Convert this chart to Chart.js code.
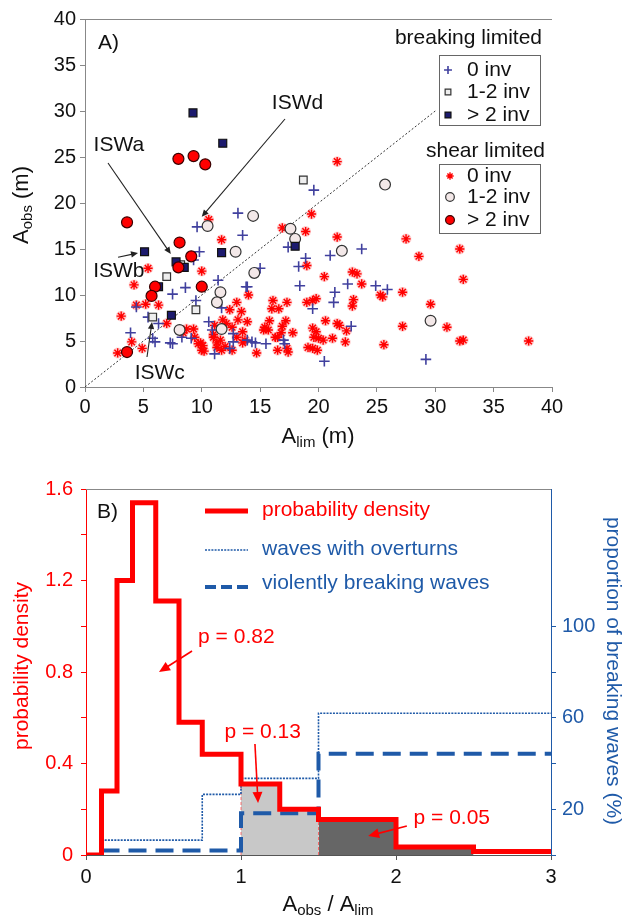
<!DOCTYPE html>
<html>
<head>
<meta charset="utf-8">
<script src="https://cdn.jsdelivr.net/npm/chart.js@4.4.1/dist/chart.umd.min.js"></script>
<style>
  html, body { margin: 0; padding: 0; background: #fff; }
  #chartA { position: absolute; left: 0; top: 0; }
  #chartB { position: absolute; left: 0; top: 460px; }
</style>
</head>
<body>
<canvas id="chartA" width="629" height="460"></canvas>
<canvas id="chartB" width="629" height="463"></canvas>
<script>
const FONT = "'Liberation Sans', Arial, sans-serif";

// ---------- panel A: [A_lim, A_obs] in m ----------
const breakingZero = [
  [19.6, 21.4], [9.6, 17.4], [13.1, 18.9], [13.5, 16.5], [9.8, 14.7], [9.3, 13.8],
  [15.0, 12.9], [8.6, 10.8], [11.4, 11.6], [13.8, 10.9], [7.5, 10.1], [9.5, 9.4],
  [4.4, 8.7], [6.3, 6.9], [10.6, 7.1], [3.9, 5.9], [5.8, 5.3], [6.0, 4.9], [7.3, 4.8],
  [9.1, 5.3], [11.1, 3.6], [17.4, 15.2], [23.7, 15.0], [21.0, 14.3], [18.9, 14.0],
  [18.3, 13.1], [22.5, 11.2], [24.9, 11.0], [25.9, 10.6], [18.4, 11.0], [21.4, 10.3],
  [21.3, 9.2], [19.5, 8.5], [22.8, 6.6], [20.5, 2.8], [17.0, 5.1], [17.1, 4.7],
  [15.5, 4.7], [14.6, 4.8], [14.3, 4.9], [13.9, 5.1], [13.9, 10.9], [29.2, 3.0],
  [11.7, 8.6], [5.4, 7.6], [10.9, 6.2], [8.3, 5.4], [7.5, 4.7], [12.7, 4.9],
  [12.4, 4.2], [12.7, 5.8]
];
const breakingMid = [[18.7, 22.5], [8.2, 13.3], [7.0, 12.0], [9.5, 8.4], [5.8, 7.6]];
const breakingHigh = [
  [9.25, 29.8], [11.8, 26.5], [5.1, 14.7], [11.7, 14.6], [7.8, 13.6], [8.5, 13.0],
  [6.3, 10.9], [7.4, 7.8], [18.0, 15.3]
];
const shearZero = [
  [21.6, 24.5], [10.6, 18.2], [11.7, 16.0], [5.4, 12.9], [10.0, 12.6], [4.2, 11.1],
  [4.4, 8.9], [5.2, 9.0], [6.3, 8.9], [3.1, 7.7], [7.0, 6.9], [12.1, 6.9], [4.0, 4.9],
  [2.8, 3.7], [4.9, 4.2], [8.7, 6.3], [9.3, 6.3], [9.4, 5.4], [9.9, 4.8], [10.2, 3.9],
  [11.0, 5.4], [11.3, 4.8], [8.4, 5.9], [9.7, 4.7], [10.0, 4.0], [10.1, 4.5],
  [12.4, 8.4], [13.0, 9.2], [13.4, 8.2], [11.8, 7.3], [11.1, 6.7], [11.0, 5.7],
  [11.6, 5.1], [12.0, 4.4], [12.6, 6.5], [13.0, 5.4], [13.1, 7.3], [13.5, 4.8],
  [12.6, 4.0], [11.7, 4.0], [13.5, 6.0], [11.3, 4.3],
  [19.0, 13.2], [20.5, 12.0], [22.9, 12.5], [23.3, 12.3], [23.7, 11.2], [25.3, 10.0],
  [25.5, 9.8], [27.2, 10.3], [23.0, 9.5], [22.9, 8.8], [19.0, 9.2], [19.5, 9.4],
  [19.8, 9.6], [17.3, 9.2], [16.1, 9.4], [16.0, 8.5], [16.6, 8.5], [14.0, 10.0],
  [20.6, 7.2], [21.6, 6.9], [21.8, 6.7], [22.4, 6.1], [19.5, 6.4], [19.8, 6.0],
  [19.6, 5.4], [20.0, 5.3], [20.4, 5.1], [21.2, 5.3], [22.3, 4.9], [25.6, 4.6],
  [27.2, 6.6], [19.1, 4.3], [19.5, 4.2], [19.9, 4.0], [17.8, 5.9], [17.2, 7.2],
  [16.9, 6.6], [16.8, 5.9], [16.5, 5.4], [16.5, 4.0], [17.3, 4.2], [17.4, 3.8],
  [15.4, 6.5], [15.3, 6.2], [15.7, 6.2], [15.8, 7.2], [16.3, 5.4], [14.7, 3.7],
  [13.9, 7.1], [13.7, 5.1],
  [19.4, 18.8], [18.9, 16.9], [21.6, 16.3], [27.5, 16.1], [28.6, 14.2], [32.1, 15.0],
  [32.4, 11.7], [29.6, 9.0], [31.0, 6.5], [32.1, 5.0], [32.4, 5.1], [38.0, 5.0],
  [16.9, 17.3]
];
const shearMid = [
  [25.7, 22.0], [10.5, 17.5], [14.4, 18.6], [12.9, 14.7], [14.5, 12.4], [11.6, 10.3],
  [11.3, 9.2], [8.1, 6.2], [11.7, 6.3], [22.0, 14.8], [29.6, 7.2], [17.6, 17.2], [18.0, 16.1]
];
const shearHigh = [
  [8.0, 24.8], [9.3, 25.1], [10.3, 24.2], [3.6, 17.9], [8.1, 15.7], [9.1, 14.2],
  [8.0, 13.0], [6.0, 10.9], [10.0, 10.9], [5.7, 9.9], [3.6, 3.8]
];
const oneToOne = [[0, 0], [30, 30]];

const iswNames = ["ISWa", "ISWb", "ISWc", "ISWd"];
const iswLabelAt = [[2.9, 26.3], [2.9, 12.6], [6.4, 1.5], [18.2, 30.9]];
const iswFrom = [[1.97, 24.35], [2.83, 14.1], [5.31, 3.26], [17.13, 29.13]];
const iswTo = [[7.35, 14.45], [4.54, 14.57], [5.74, 7.07], [10.0, 18.5]];

const invLabels = ["0 inv", "1-2 inv", "> 2 inv"];

// ---------- panel B ----------
const binEdges = [0, 0.1, 0.2, 0.3, 0.45, 0.6, 0.75, 1.0, 1.25, 1.5, 2.0, 2.5, 3.0];
const density = [0, 0.28, 1.2, 1.54, 1.11, 0.58, 0.44, 0.31, 0.2, 0.155, 0.035, 0.015];
const overturnEdges = [0.1, 0.75, 1.0, 1.5, 3.0];
const overturnPct = [6.5, 26.5, 33.5, 62];
const violentEdges = [0.1, 1.0, 1.5, 3.0];
const violentPct = [2, 18.3, 44.3];
const pctTicks = [0, 20, 40, 60, 80, 100];
const pctLabels = [20, 60, 100];

const pTexts = ["p = 0.82", "p = 0.13", "p = 0.05"];
const pLabelAt = [[0.97, 0.953], [1.14, 0.538], [2.36, 0.162]];
const pFrom = [[0.684, 0.892], [1.09, 0.485], [2.07, 0.127]];
const pTo = [[0.471, 0.80], [1.11, 0.227], [1.82, 0.083]];

const RED = "#ff0000";
const BLUE = "#1f5aa8";

function pts(arr) {
  return arr.map((p) => ({ x: p[0], y: p[1] }));
}

function steps(edges, vals) {
  const out = vals.map((v, i) => ({ x: edges[i], y: v }));
  out.push({ x: edges[edges.length - 1], y: vals[vals.length - 1] });
  return out;
}

function stepsBetween(a, b) {
  const out = [];
  for (let i = 0; i < density.length; i++) {
    if (binEdges[i] >= a && binEdges[i] < b) out.push({ x: binEdges[i], y: density[i] });
  }
  out.push({ x: b, y: out[out.length - 1].y });
  return out;
}

function edgeLine(b) {
  const i = binEdges.indexOf(b);
  return [{ x: b, y: 0 }, { x: b, y: density[i - 1] }];
}

const markerStyles = {
  bZero: { pointStyle: "cross", radius: 5.3, borderWidth: 1.6, fill: "#40409e", stroke: "#40409e" },
  bMid: { pointStyle: "rect", radius: 5.4, borderWidth: 1.2, fill: "#eeeeee", stroke: "#333" },
  bHigh: { pointStyle: "rect", radius: 5.6, borderWidth: 1.2, fill: "#1c1a6e", stroke: "#111" },
  sZero: { pointStyle: "star", radius: 4.6, borderWidth: 1.4, fill: RED, stroke: RED },
  sMid: { pointStyle: "circle", radius: 5.4, borderWidth: 1.2, fill: "#f3e8e8", stroke: "#333" },
  sHigh: { pointStyle: "circle", radius: 5.5, borderWidth: 1.2, fill: RED, stroke: "#3a0000" }
};

function scatterSet(data, st) {
  return {
    type: "scatter",
    data: pts(data),
    pointStyle: st.pointStyle,
    pointRadius: st.radius,
    pointBorderWidth: st.borderWidth,
    pointBackgroundColor: st.fill,
    pointBorderColor: st.stroke
  };
}

function marker(ctx, st, x, y, scale) {
  ctx.save();
  ctx.fillStyle = st.fill;
  ctx.strokeStyle = st.stroke;
  ctx.lineWidth = st.borderWidth;
  Chart.helpers.drawPoint(ctx, { pointStyle: st.pointStyle, radius: st.radius * scale, rotation: 0, borderWidth: st.borderWidth }, x, y);
  ctx.restore();
}

function arrow(ctx, x1, y1, x2, y2, color, lw, head) {
  const a = Math.atan2(y2 - y1, x2 - x1);
  ctx.save();
  ctx.strokeStyle = color;
  ctx.fillStyle = color;
  ctx.lineWidth = lw;
  ctx.beginPath();
  ctx.moveTo(x1, y1);
  ctx.lineTo(x2 - Math.cos(a) * head * 0.6, y2 - Math.sin(a) * head * 0.6);
  ctx.stroke();
  ctx.beginPath();
  ctx.moveTo(x2, y2);
  ctx.lineTo(x2 - head * Math.cos(a) + head * 0.45 * Math.sin(a), y2 - head * Math.sin(a) - head * 0.45 * Math.cos(a));
  ctx.lineTo(x2 - head * Math.cos(a) - head * 0.45 * Math.sin(a), y2 - head * Math.sin(a) + head * 0.45 * Math.cos(a));
  ctx.closePath();
  ctx.fill();
  ctx.restore();
}

// parts: [text, size, dy]
function richText(ctx, parts, x, y, rot, color) {
  ctx.save();
  ctx.translate(x, y);
  ctx.rotate(rot);
  ctx.fillStyle = color;
  ctx.textBaseline = "middle";
  ctx.textAlign = "left";
  let w = 0;
  parts.forEach((p) => { ctx.font = p[1] + "px " + FONT; w += ctx.measureText(p[0]).width; });
  let cx = -w / 2;
  parts.forEach((p) => {
    ctx.font = p[1] + "px " + FONT;
    ctx.fillText(p[0], cx, p[2]);
    cx += ctx.measureText(p[0]).width;
  });
  ctx.restore();
}

function text(ctx, s, x, y, size, color, align) {
  ctx.save();
  ctx.font = size + "px " + FONT;
  ctx.fillStyle = color;
  ctx.textAlign = align || "center";
  ctx.textBaseline = "middle";
  ctx.fillText(s, x, y);
  ctx.restore();
}

const panelADecor = {
  id: "panelADecor",
  afterDraw(chart) {
    const ctx = chart.ctx;
    const { left, right, top } = chart.chartArea;
    const sx = chart.scales.x, sy = chart.scales.y;
    const px = (p) => [sx.getPixelForValue(p[0]), sy.getPixelForValue(p[1])];

    ctx.save();
    ctx.strokeStyle = "#888";
    ctx.lineWidth = 1;
    ctx.beginPath();
    ctx.moveTo(left, top + 0.5);
    ctx.lineTo(right, top + 0.5);
    ctx.stroke();
    ctx.restore();

    text(ctx, "A)", 98, 43, 21, "#111", "left");

    iswNames.forEach((n, i) => {
      const l = px(iswLabelAt[i]);
      text(ctx, n, l[0], l[1], 21, "#111");
      const a = px(iswFrom[i]), b = px(iswTo[i]);
      arrow(ctx, a[0], a[1], b[0], b[1], "#222", 1.1, 7);
    });

    // legends
    text(ctx, "breaking limited", 542, 38, 21, "#111", "right");
    text(ctx, "shear limited", 545, 151, 21, "#111", "right");
    ctx.save();
    ctx.fillStyle = "#fff";
    ctx.strokeStyle = "#666";
    ctx.lineWidth = 1;
    ctx.fillRect(439.5, 55.5, 101, 70);
    ctx.strokeRect(439.5, 55.5, 101, 70);
    ctx.fillRect(439.5, 164.5, 101, 69);
    ctx.strokeRect(439.5, 164.5, 101, 69);
    ctx.restore();
    const ys1 = [70, 92, 115], ys2 = [176, 197, 220];
    [markerStyles.bZero, markerStyles.bMid, markerStyles.bHigh].forEach((st, i) => {
      marker(ctx, st, 448, ys1[i], 0.75);
      text(ctx, invLabels[i], 467, ys1[i], 21, "#111", "left");
    });
    [markerStyles.sZero, markerStyles.sMid, markerStyles.sHigh].forEach((st, i) => {
      marker(ctx, st, 450, ys2[i], 0.8);
      text(ctx, invLabels[i], 467, ys2[i], 21, "#111", "left");
    });

    richText(ctx, [["A", 22, 0], ["obs", 15, 6], [" (m)", 22, 0]], 22, 205, -Math.PI / 2, "#111");
    richText(ctx, [["A", 22, 0], ["lim", 15, 6], [" (m)", 22, 0]], 318, 437, 0, "#111");
  }
};

const panelBDecor = {
  id: "panelBDecor",
  afterDraw(chart) {
    const ctx = chart.ctx;
    const { left, right, top } = chart.chartArea;
    const sx = chart.scales.x, sy = chart.scales.y;
    const px = (p) => [sx.getPixelForValue(p[0]), sy.getPixelForValue(p[1])];

    ctx.save();
    ctx.strokeStyle = "#888";
    ctx.lineWidth = 1;
    ctx.beginPath();
    ctx.moveTo(left, top + 0.5);
    ctx.lineTo(right, top + 0.5);
    ctx.stroke();
    ctx.restore();

    text(ctx, "B)", 97, 52, 21, "#111", "left");

    // legend
    ctx.save();
    ctx.lineWidth = 5;
    ctx.strokeStyle = RED;
    ctx.beginPath(); ctx.moveTo(205, 51); ctx.lineTo(248, 51); ctx.stroke();
    ctx.lineWidth = 1.6;
    ctx.strokeStyle = BLUE;
    ctx.setLineDash([2, 1.2]);
    ctx.beginPath(); ctx.moveTo(205, 90); ctx.lineTo(248, 90); ctx.stroke();
    ctx.lineWidth = 4;
    ctx.setLineDash([11, 5]);
    ctx.beginPath(); ctx.moveTo(205, 127); ctx.lineTo(248, 127); ctx.stroke();
    ctx.restore();
    text(ctx, "probability density", 262, 50, 21, RED, "left");
    text(ctx, "waves with overturns", 262, 89, 21, BLUE, "left");
    text(ctx, "violently breaking waves", 262, 123, 21, BLUE, "left");

    pTexts.forEach((t, i) => {
      const l = px(pLabelAt[i]);
      text(ctx, t, l[0], l[1], 21, RED);
      const a = px(pFrom[i]), b = px(pTo[i]);
      arrow(ctx, a[0], a[1], b[0], b[1], RED, 1.6, 11);
    });

    richText(ctx, [["probability density", 21, 0]], 22, 206, -Math.PI / 2, RED);
    richText(ctx, [["proportion of breaking waves (%)", 21, 0]], 613, 211, Math.PI / 2, BLUE);
    richText(ctx, [["A", 22, 0], ["obs", 15, 6], [" / A", 22, 0], ["lim", 15, 6]], 328, 445, 0, "#111");
  }
};

const tickFont = { family: FONT, size: 20 };

new Chart(document.getElementById("chartA"), {
  data: {
    datasets: [
      scatterSet(shearHigh, markerStyles.sHigh),
      scatterSet(breakingHigh, markerStyles.bHigh),
      scatterSet(shearMid, markerStyles.sMid),
      scatterSet(breakingMid, markerStyles.bMid),
      scatterSet(breakingZero, markerStyles.bZero),
      scatterSet(shearZero, markerStyles.sZero),
      {
        type: "scatter",
        data: pts(shearZero),
        pointStyle: "star",
        pointRadius: 5.2,
        pointBorderWidth: 3.5,
        pointBorderColor: "rgba(255, 90, 90, 0.35)",
        pointBackgroundColor: "rgba(0,0,0,0)"
      },
      {
        type: "line",
        data: pts(oneToOne),
        borderColor: "#333",
        borderWidth: 1,
        borderDash: [2, 2],
        pointRadius: 0
      }
    ]
  },
  options: {
    responsive: false,
    animation: false,
    events: [],
    layout: { padding: { top: 19, right: 77, left: 0, bottom: 0 } },
    plugins: { legend: { display: false }, tooltip: { enabled: false } },
    scales: {
      x: {
        type: "linear",
        min: 0,
        max: 40,
        ticks: { stepSize: 5, font: tickFont, color: "#111", padding: 3, maxRotation: 0, autoSkip: false },
        grid: { drawOnChartArea: false, tickLength: 5, color: "#888" },
        border: { color: "#888" },
        afterFit: (s) => { s.height = 73; }
      },
      y: {
        type: "linear",
        min: 0,
        max: 40,
        ticks: { stepSize: 5, font: tickFont, color: "#111", padding: 4, autoSkip: false },
        grid: { drawOnChartArea: false, tickLength: 5, color: "#888" },
        border: { color: "#888" },
        afterFit: (s) => { s.width = 85; }
      }
    }
  },
  plugins: [panelADecor]
});

new Chart(document.getElementById("chartB"), {
  type: "line",
  data: {
    datasets: [
      {
        data: steps(binEdges, density),
        stepped: true,
        borderColor: RED,
        borderWidth: 5,
        pointRadius: 0,
        yAxisID: "y"
      },
      {
        data: steps(violentEdges, violentPct),
        stepped: true,
        borderColor: BLUE,
        borderWidth: 4,
        borderDash: [18, 9],
        pointRadius: 0,
        yAxisID: "y2"
      },
      {
        data: steps(overturnEdges, overturnPct),
        stepped: true,
        borderColor: BLUE,
        borderWidth: 1.6,
        borderDash: [2, 1.2],
        pointRadius: 0,
        yAxisID: "y2"
      },
      {
        data: edgeLine(1.0),
        borderColor: "rgba(255, 60, 60, 0.7)",
        borderWidth: 1,
        borderDash: [3, 2],
        pointRadius: 0,
        yAxisID: "y"
      },
      {
        data: edgeLine(1.5),
        borderColor: "rgba(255, 60, 60, 0.7)",
        borderWidth: 1,
        borderDash: [3, 2],
        pointRadius: 0,
        yAxisID: "y"
      },
      {
        data: stepsBetween(1.0, 1.5),
        stepped: true,
        borderWidth: 0,
        backgroundColor: "#c8c8c8",
        fill: "origin",
        pointRadius: 0,
        yAxisID: "y"
      },
      {
        data: stepsBetween(1.5, 2.5),
        stepped: true,
        borderWidth: 0,
        backgroundColor: "#666666",
        fill: "origin",
        pointRadius: 0,
        yAxisID: "y"
      }
    ]
  },
  options: {
    responsive: false,
    animation: false,
    events: [],
    layout: { padding: { top: 29, right: 0, left: 0, bottom: 0 } },
    plugins: { legend: { display: false }, tooltip: { enabled: false } },
    scales: {
      x: {
        type: "linear",
        min: 0,
        max: 3,
        ticks: { stepSize: 1, font: tickFont, color: "#111", padding: 5, maxRotation: 0 },
        grid: { drawOnChartArea: false, tickLength: 5, color: "#555" },
        border: { color: "#555" },
        afterFit: (s) => { s.height = 68; }
      },
      y: {
        type: "linear",
        position: "left",
        min: 0,
        max: 1.6,
        ticks: {
          stepSize: 0.2,
          font: tickFont,
          color: RED,
          padding: 8,
          autoSkip: false,
          callback: (v) => (Math.round(v * 10) % 4 === 0 ? String(Number(v.toFixed(1))) : "")
        },
        grid: { drawOnChartArea: false, tickLength: 5, color: RED },
        border: { color: RED },
        afterFit: (s) => { s.width = 86; }
      },
      y2: {
        type: "linear",
        position: "right",
        min: 0,
        max: 160,
        afterBuildTicks: (s) => { s.ticks = pctTicks.map((v) => ({ value: v })); },
        ticks: {
          font: tickFont,
          color: BLUE,
          padding: 6,
          autoSkip: false,
          callback: (v) => (pctLabels.includes(v) ? String(v) : "")
        },
        grid: { drawOnChartArea: false, tickLength: 5, color: BLUE },
        border: { color: BLUE },
        afterFit: (s) => { s.width = 78; }
      }
    }
  },
  plugins: [panelBDecor]
});
</script>
</body>
</html>
